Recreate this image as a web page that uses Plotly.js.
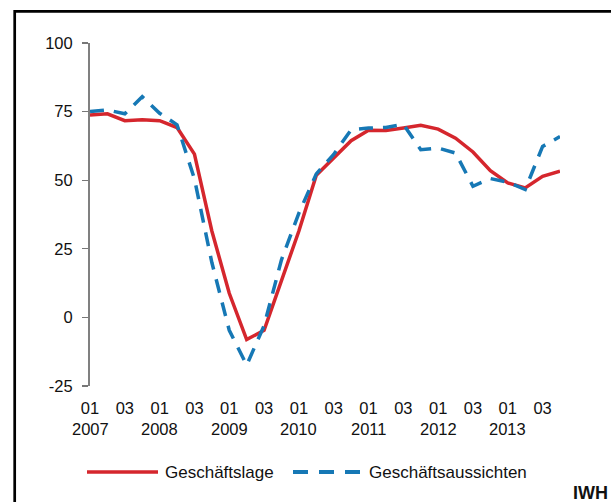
<!DOCTYPE html>
<html>
<head>
<meta charset="utf-8">
<script src="https://cdn.plot.ly/plotly-3.0.1.min.js"></script>
<style>
  html, body { margin: 0; padding: 0; background: #fff; }
  #chart { width: 611px; height: 502px; }
</style>
</head>
<body>
<div id="chart"></div>
<script>
// ---- data (quarterly) ----
const quarters = [
  "2007-Q1","2007-Q2","2007-Q3","2007-Q4",
  "2008-Q1","2008-Q2","2008-Q3","2008-Q4",
  "2009-Q1","2009-Q2","2009-Q3","2009-Q4",
  "2010-Q1","2010-Q2","2010-Q3","2010-Q4",
  "2011-Q1","2011-Q2","2011-Q3","2011-Q4",
  "2012-Q1","2012-Q2","2012-Q3","2012-Q4",
  "2013-Q1","2013-Q2","2013-Q3","2013-Q4"
];
const geschaeftslage = [
  73.8, 74.2, 71.7, 72.0,
  71.7, 69.2, 59.5, 31.5,
  8.8, -8.1, -4.7, 13.5,
  31.5, 51.8, 58.3, 64.4,
  68.2, 68.1, 69.0, 70.0,
  68.6, 65.3, 60.3, 53.5,
  49.0, 47.2, 51.4, 53.3
];
const geschaeftsaussichten = [
  75.0, 75.6, 74.2, 80.4,
  74.4, 70.2, 50.5, 20.0,
  -4.7, -17.4, -3.0, 21.0,
  38.0, 52.3, 59.4, 68.4,
  69.0, 69.2, 70.4, 61.1,
  61.7, 59.9, 47.8, 50.6,
  49.3, 46.6, 62.3, 65.9
];
const quarterTickIdx = [0,2,4,6,8,10,12,14,16,18,20,22,24,26];
const quarterTickText = ["01","03","01","03","01","03","01","03","01","03","01","03","01","03"];
const yearTickIdx = [0,4,8,12,16,20,24];
const yearTickText = ["2007","2008","2009","2010","2011","2012","2013"];
const yTicks = [-25, 0, 25, 50, 75, 100];
const yTickText = ["-25", "0", "25", "50", "75", "100"];
const seriesNames = ["Geschäftslage", "Geschäftsaussichten"];
const sourceLabel = "IWH";

// ---- styling ----
const RED = "rgb(213,38,45)";
const BLUE = "rgb(22,120,181)";
const FONT = "Liberation Sans, Arial, sans-serif";
const xIdx = quarters.map((q, i) => i);
const xRange = [0, quarters.length - 1];
const yRange = [-25, 100];

// plot area in pixels (for paper-coordinate decorations)
const W = 611, H = 502, L = 90, R = 51, T = 43, B = 116;
const pw = W - L - R, ph = H - T - B;
const px = v => (v - L) / pw;
const py = v => (H - B - v) / ph;

const traces = [
  { x: xIdx, y: geschaeftslage, name: seriesNames[0], type: "scatter", mode: "lines",
    line: { color: RED, width: 3.5 }, xaxis: "x", yaxis: "y", hoverinfo: "skip" },
  { x: xIdx, y: geschaeftsaussichten, name: seriesNames[1], type: "scatter", mode: "lines",
    line: { color: BLUE, width: 3.5, dash: "14px,10px" }, xaxis: "x", yaxis: "y", hoverinfo: "skip" }
];

const tickFont = { family: FONT, size: 16.5, color: "#111" };
const zeroPos = (0 - yRange[0]) / (yRange[1] - yRange[0]);

const yearAnnotations = yearTickIdx.map((xi, k) => ({
  xref: "x", yref: "paper", x: xi, y: py(429), xanchor: "center", yanchor: "middle",
  text: yearTickText[k], showarrow: false, font: tickFont
}));

const layout = {
  width: W, height: H,
  margin: { l: L, r: R, t: T, b: B, pad: 0 },
  paper_bgcolor: "#fff", plot_bgcolor: "rgba(0,0,0,0)",
  showlegend: false,
  font: { family: FONT, size: 16.5, color: "#111" },
  xaxis: {
    range: xRange, showgrid: false, zeroline: false, showline: false,
    tickmode: "array", tickvals: quarterTickIdx, ticktext: quarterTickText,
    ticks: "", tickfont: tickFont, ticklabelstandoff: 10, fixedrange: true
  },
  xaxis2: {
    overlaying: "x", anchor: "free", position: zeroPos,
    side: "bottom", range: xRange, showgrid: false, zeroline: false,
    showline: true, linecolor: "#000", linewidth: 1.3,
    tickmode: "linear", tick0: 0, dtick: 2, ticks: "outside", ticklen: 5,
    tickwidth: 1.3, tickcolor: "#444", showticklabels: false,
    minor: { tick0: 0, dtick: 1, ticks: "outside", ticklen: 4, tickwidth: 1.2, tickcolor: "#444" }
  },
  xaxis3: {
    overlaying: "x", anchor: "free", position: zeroPos,
    side: "bottom", range: xRange, showgrid: false, zeroline: false, showline: false,
    tickmode: "linear", tick0: 0, dtick: 2, ticks: "inside", ticklen: 5,
    tickwidth: 1.3, tickcolor: "#444", showticklabels: false
  },
  yaxis: {
    range: yRange, showgrid: false, zeroline: false,
    showline: true, linecolor: "#808080", linewidth: 2,
    tickmode: "array", tickvals: yTicks, ticktext: yTickText, ticks: "outside", ticklen: 6,
    tickwidth: 1.3, tickcolor: "#777", tickfont: tickFont, ticklabelstandoff: 6
  },
  yaxis2: {
    overlaying: "y", anchor: "x", side: "left",
    range: yRange, showgrid: false, zeroline: false, showline: false,
    tickmode: "array", tickvals: yTicks, ticks: "inside", ticklen: 5,
    tickwidth: 1.3, tickcolor: "#777", showticklabels: false
  },
  shapes: [
    // outer frame
    { type: "rect", xref: "paper", yref: "paper",
      x0: px(14.7), x1: px(660), y0: py(560), y1: py(11.3),
      line: { color: "#000", width: 2.7 }, fillcolor: "rgba(0,0,0,0)", layer: "above" },
    // legend samples
    { type: "line", xref: "paper", yref: "paper",
      x0: px(87), x1: px(158), y0: py(472), y1: py(472),
      line: { color: RED, width: 3.5 } },
    { type: "line", xref: "paper", yref: "paper",
      x0: px(293), x1: px(361), y0: py(472), y1: py(472),
      line: { color: BLUE, width: 4, dash: "15px,11px" } }
  ],
  annotations: yearAnnotations.concat([
    { xref: "paper", yref: "paper", x: px(163), y: py(472.5), xanchor: "left", yanchor: "middle",
      text: seriesNames[0], showarrow: false, font: { family: FONT, size: 17, color: "#111" } },
    { xref: "paper", yref: "paper", x: px(367), y: py(472.5), xanchor: "left", yanchor: "middle",
      text: seriesNames[1], showarrow: false, font: { family: FONT, size: 17, color: "#111" } },
    { xref: "paper", yref: "paper", x: px(610), y: py(492.5), xanchor: "right", yanchor: "middle",
      text: "<b>" + sourceLabel + "</b>", showarrow: false, font: { family: FONT, size: 18, color: "#111" } }
  ])
};

Plotly.newPlot("chart", traces, layout, { displayModeBar: false, staticPlot: true });
</script>
</body>
</html>
